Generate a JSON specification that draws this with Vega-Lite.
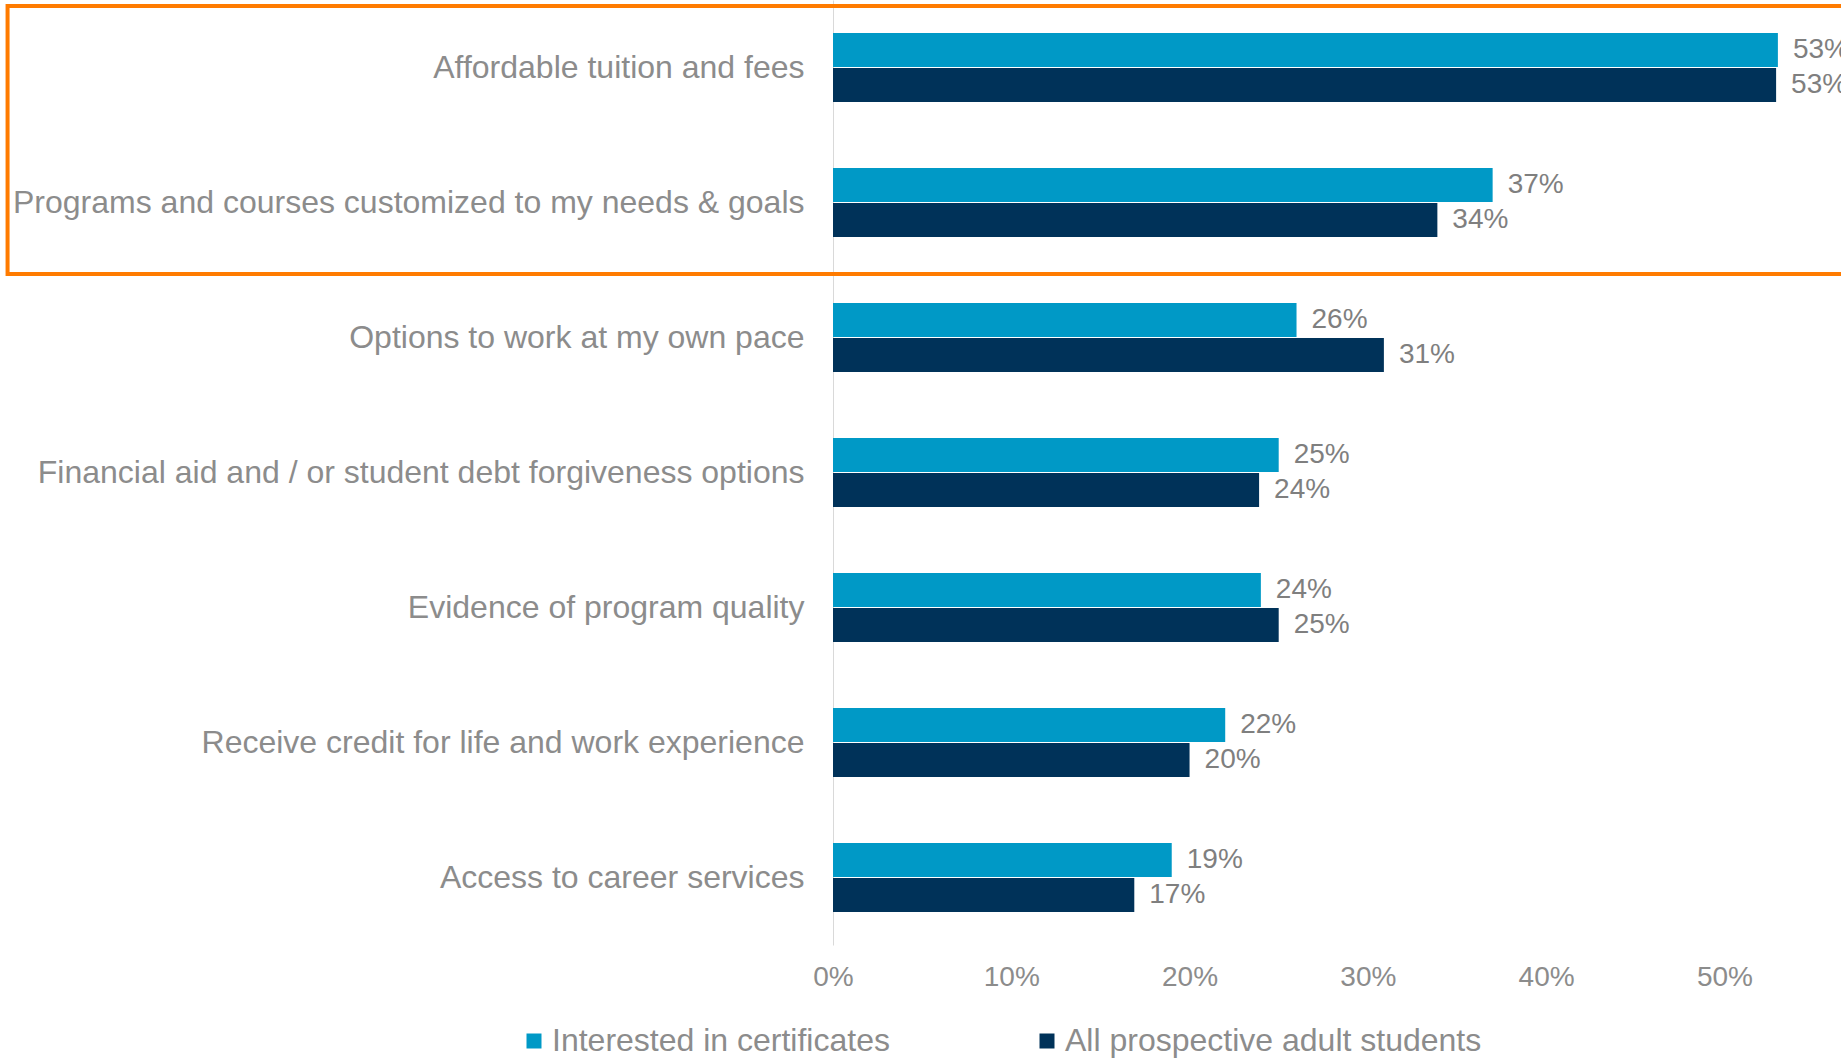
{
  "$schema": "https://vega.github.io/schema/vega-lite/v6.json",
  "width": 1008,
  "height": 945,
  "autosize": {"type": "none"},
  "padding": {"left": 833, "top": 0, "right": 0, "bottom": 113},
  "background": "white",
  "config": {"view": {"stroke": null}, "font": "Liberation Sans"},
  "layer": [
    {
      "data": {
        "values": [
          {"factor": "Affordable tuition and fees", "group": "Interested in certificates", "pct": 53, "label": "53%"},
          {"factor": "Affordable tuition and fees", "group": "All prospective adult students", "pct": 52.9, "label": "53%"},
          {"factor": "Programs and courses customized to my needs & goals", "group": "Interested in certificates", "pct": 37, "label": "37%"},
          {"factor": "Programs and courses customized to my needs & goals", "group": "All prospective adult students", "pct": 33.9, "label": "34%"},
          {"factor": "Options to work at my own pace", "group": "Interested in certificates", "pct": 26, "label": "26%"},
          {"factor": "Options to work at my own pace", "group": "All prospective adult students", "pct": 30.9, "label": "31%"},
          {"factor": "Financial aid and / or student debt forgiveness options", "group": "Interested in certificates", "pct": 25, "label": "25%"},
          {"factor": "Financial aid and / or student debt forgiveness options", "group": "All prospective adult students", "pct": 23.9, "label": "24%"},
          {"factor": "Evidence of program quality", "group": "Interested in certificates", "pct": 24, "label": "24%"},
          {"factor": "Evidence of program quality", "group": "All prospective adult students", "pct": 25, "label": "25%"},
          {"factor": "Receive credit for life and work experience", "group": "Interested in certificates", "pct": 22, "label": "22%"},
          {"factor": "Receive credit for life and work experience", "group": "All prospective adult students", "pct": 20, "label": "20%"},
          {"factor": "Access to career services", "group": "Interested in certificates", "pct": 19, "label": "19%"},
          {"factor": "Access to career services", "group": "All prospective adult students", "pct": 16.9, "label": "17%"}
        ]
      },
      "encoding": {
        "y": {
          "field": "factor",
          "type": "nominal",
          "sort": null,
          "scale": {"paddingInner": 0.489, "paddingOuter": 0.2445},
          "axis": {
            "title": null,
            "labelFontSize": 32,
            "labelColor": "#8c8c8c",
            "labelPadding": 29,
            "labelLimit": 1000,
            "ticks": false,
            "grid": false,
            "domainColor": "#d9d9d9",
            "domainWidth": 1
          }
        },
        "x": {
          "field": "pct",
          "type": "quantitative",
          "scale": {"domain": [0, 56.54], "nice": false},
          "axis": {
            "title": null,
            "values": [0, 10, 20, 30, 40, 50],
            "labelExpr": "datum.value + '%'",
            "labelFontSize": 28,
            "labelColor": "#8c8c8c",
            "labelPadding": 18,
            "labelFlush": false,
            "ticks": false,
            "domain": false,
            "grid": false
          }
        },
        "yOffset": {
          "field": "group",
          "type": "nominal",
          "sort": ["Interested in certificates", "All prospective adult students"],
          "scale": {"paddingInner": 0.03}
        }
      },
      "layer": [
        {
          "mark": {"type": "bar"},
          "encoding": {
            "color": {
              "field": "group",
              "type": "nominal",
              "sort": ["Interested in certificates", "All prospective adult students"],
              "scale": {"domain": ["Interested in certificates", "All prospective adult students"], "range": ["#0099c6", "#003259"]},
              "legend": {
                "title": null,
                "orient": "none",
                "direction": "horizontal",
                "legendX": -315,
                "legendY": 1025,
                "symbolType": "square",
                "symbolSize": 225,
                "symbolStrokeWidth": 0,
                "labelFontSize": 32,
                "labelColor": "#8c8c8c",
                "labelLimit": 1000,
                "labelOffset": 2,
                "columnPadding": 141
              }
            }
          }
        },
        {
          "mark": {"type": "text", "align": "left", "baseline": "middle", "dx": 15, "fontSize": 28, "color": "#7f7f7f"},
          "encoding": {"text": {"field": "label", "type": "nominal"}}
        }
      ]
    },
    {
      "data": {"values": [{"x1": -46.3, "x2": 62, "y1": 0.045, "y2": 2.03}]},
      "mark": {"type": "rect", "fill": null, "stroke": "#ff7b00", "strokeWidth": 4},
      "encoding": {
        "x": {"field": "x1", "type": "quantitative"},
        "x2": {"field": "x2"},
        "y": {"field": "y1", "type": "quantitative", "scale": {"domain": [0, 7], "reverse": true, "nice": false, "zero": false}, "axis": null},
        "y2": {"field": "y2"}
      }
    }
  ],
  "resolve": {"scale": {"y": "independent"}}
}
